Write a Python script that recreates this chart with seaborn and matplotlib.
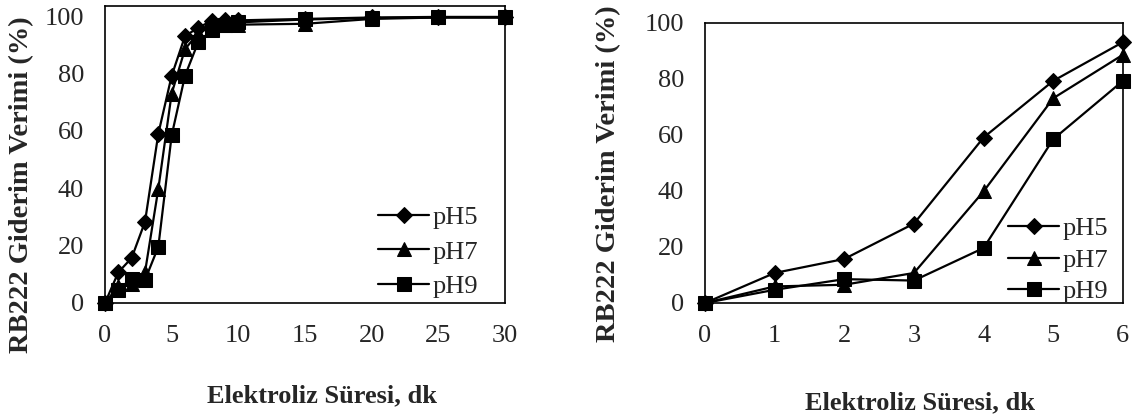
import seaborn as sns
import matplotlib.pyplot as plt
import pandas as pd

# time points (dk)
t_long = [0, 1, 2, 3, 4, 5, 6, 7, 8, 9, 10, 15, 20, 25, 30]
ph5_long = [0, 10.7, 15.7, 28.3, 59, 79.2, 93, 96, 98.3, 98.5, 98.5, 99, 99.5, 99.7, 99.7]
ph7_long = [0, 5.9, 6.5, 10.7, 39.8, 73, 88.5, 94, 96.5, 96.8, 97, 97.3, 99, 99.5, 99.5]
ph9_long = [0, 4.7, 8.5, 8, 19.6, 58.4, 79.2, 91, 95, 96.8, 97.8, 98.8, 99.3, 99.5, 99.5]

t_short = [0, 1, 2, 3, 4, 5, 6]
ph5_short = [0, 10.7, 15.7, 28.3, 59, 79.2, 93]
ph7_short = [0, 5.9, 6.5, 10.7, 39.8, 73, 88.5]
ph9_short = [0, 4.7, 8.5, 8, 19.6, 58.4, 79.2]

labels = ["pH5", "pH7", "pH9"]
markers = {"pH5": "D", "pH7": "^", "pH9": "s"}
msizes = {"pH5": 8, "pH7": 10, "pH9": 10}


def make_df(t, series):
    rows = []
    for lab, vals in zip(labels, series):
        for x, y in zip(t, vals):
            rows.append({"t": x, "v": y, "pH": lab})
    return pd.DataFrame(rows)


sns.set_style("ticks")
plt.rcParams["font.family"] = ["Liberation Serif", "DejaVu Serif"]

fig = plt.figure(figsize=(11.4, 4.2), dpi=100)
ax1 = fig.add_axes([0.0921, 0.2786, 0.3509, 0.7071])
ax2 = fig.add_axes([0.6184, 0.2786, 0.3666, 0.6678])


def draw(ax, df, xlim, ylim, xticks, legend_anchor, xlab_pos, ylab_pos, spacing):
    for lab in labels:
        sub = df[df["pH"] == lab]
        sns.lineplot(data=sub, x="t", y="v", ax=ax, color="black", lw=1.6,
                     marker=markers[lab], markersize=msizes[lab],
                     markeredgecolor="black", markerfacecolor="black",
                     label=lab, clip_on=False, zorder=3)
    ax.set_xlim(*xlim)
    ax.set_ylim(*ylim)
    ax.set_xticks(xticks)
    ax.set_yticks([0, 20, 40, 60, 80, 100])
    ax.tick_params(axis="x", labelsize=19, length=0, pad=16)
    ax.tick_params(axis="y", labelsize=19, length=0, pad=15)
    for s in ax.spines.values():
        s.set_visible(True)
        s.set_color("black")
        s.set_linewidth(1.2)
    ax.set_xlabel("Elektroliz Süresi, dk", fontsize=19, fontweight="bold", va="center")
    ax.set_ylabel("RB222 Giderim Verimi (%)", fontsize=20.5, fontweight="bold", va="center")
    ax.xaxis.set_label_coords(*xlab_pos)
    ax.yaxis.set_label_coords(*ylab_pos)
    leg = ax.legend(loc="center left", bbox_to_anchor=legend_anchor, frameon=False,
                    fontsize=19, handlelength=1.95, handletextpad=0.1,
                    labelspacing=spacing, borderpad=0, borderaxespad=0)
    return leg


draw(ax1, make_df(t_long, [ph5_long, ph7_long, ph9_long]), (0, 30), (0, 103.5),
     [0, 5, 10, 15, 20, 25, 30], (0.6825, 0.172), (0.5425, -0.313), (-0.2075, 0.40), 0.42)
draw(ax2, make_df(t_short, [ph5_short, ph7_short, ph9_short]), (0, 6), (0, 100),
     [0, 1, 2, 3, 4, 5, 6], (0.725, 0.153), (0.514, -0.356), (-0.2297, 0.46), 0.3)

fig.savefig("out.png", dpi=100)
